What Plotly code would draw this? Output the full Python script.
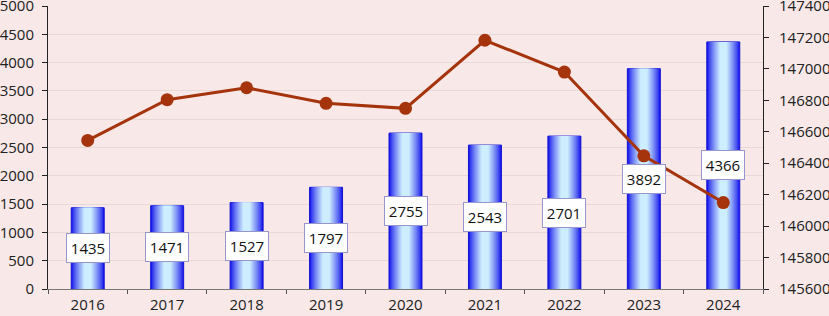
import plotly.graph_objects as go

years = ["2016", "2017", "2018", "2019", "2020", "2021", "2022", "2023", "2024"]
bar_values = [1435, 1471, 1527, 1797, 2755, 2543, 2701, 3892, 4366]
line_values = [146545, 146804, 146880, 146781, 146749, 147182, 146980, 146447, 146150]
left_ticks = list(range(0, 5001, 500))
right_ticks = list(range(145600, 147401, 200))

BG = "rgb(248,232,231)"
FONT = "Open Sans"

fig = go.Figure()

# Cylinder-like horizontal gradient using overlaid bars of decreasing width
bar_width = 0.415
n_layers = 14
dark = (20, 20, 235)
light = (205, 238, 255)
for i in range(n_layers):
    t = i / (n_layers - 1)
    w = bar_width * (1 - t * 0.78)
    f = t ** 0.8
    c = tuple(int(dark[k] + (light[k] - dark[k]) * f) for k in range(3))
    fig.add_trace(go.Bar(
        x=years, y=bar_values, width=w,
        marker=dict(color="rgb(%d,%d,%d)" % c,
                    line=dict(width=1 if i == 0 else 0, color="rgb(20,20,210)")),
        showlegend=False, hoverinfo="skip" if i else None,
    ))

fig.add_trace(go.Scatter(
    x=years, y=line_values, yaxis="y2", mode="lines+markers",
    line=dict(color="rgb(165,52,12)", width=3),
    marker=dict(color="rgb(165,52,12)", size=13),
    showlegend=False,
))

for i, v in enumerate(bar_values):
    fig.add_annotation(
        x=i, y=v / 2, xref="x", yref="y", text=str(v), showarrow=False,
        font=dict(family=FONT, size=15, color="#111"),
        bgcolor="white", bordercolor="rgb(150,150,205)", borderwidth=1,
        borderpad=3, width=36, height=22,
    )

fig.update_layout(
    width=829, height=316,
    margin=dict(l=48, r=66, t=6, b=27),
    paper_bgcolor=BG, plot_bgcolor=BG,
    barmode="overlay",
    font=dict(family=FONT, size=15, color="#222"),
    xaxis=dict(type="category", range=[-0.5, len(years) - 0.5], showline=True,
               linecolor="#777", linewidth=1, automargin=False,
               ticks="outside", tickson="boundaries", ticklen=4, tickcolor="#555",
               showgrid=False, tickfont=dict(size=15), tickangle=0,
               ticklabelstandoff=2),
    yaxis=dict(range=[0, 5000], tickvals=left_ticks, tickformat="d", showline=True,
               linecolor="#222", linewidth=1, ticks="outside", ticklen=5, tickcolor="#222",
               gridcolor="rgb(232,216,214)", gridwidth=1, zeroline=False, automargin=False,
               tickfont=dict(size=15), ticklabeloverflow="allow", ticklabelstandoff=5),
    yaxis2=dict(range=[145600, 147400], tickvals=right_ticks, tickformat="d",
                overlaying="y", side="right", automargin=False,
                showline=True, linecolor="#222", linewidth=1, ticks="outside", ticklen=5,
                tickcolor="#222", showgrid=False, zeroline=False, tickfont=dict(size=15),
                ticklabeloverflow="allow", ticklabelstandoff=7),
)

fig.write_html("out.html",
               config={"displayModeBar": False},
               post_script="document.body.style.margin='0px';"
                           "document.body.style.background='" + BG + "';")
